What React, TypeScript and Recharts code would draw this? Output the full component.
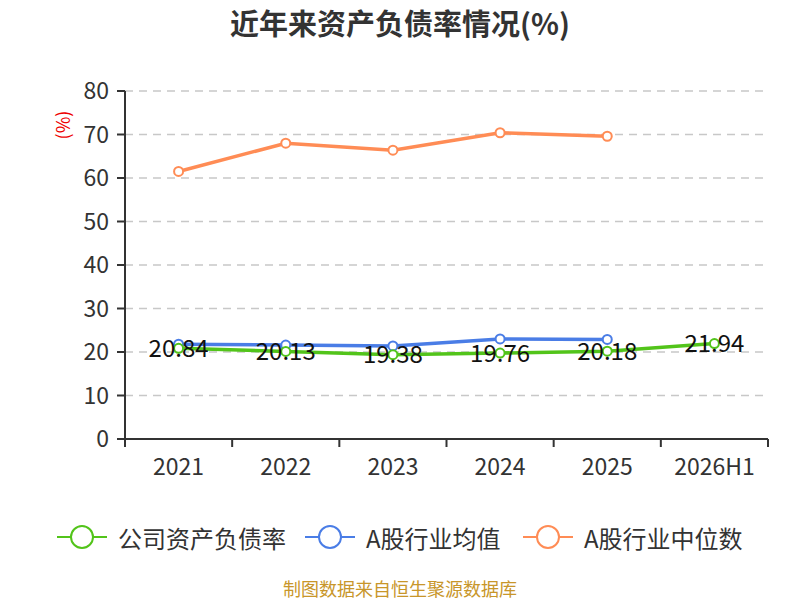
import type { ReactElement } from 'react'
import { CartesianGrid, LabelList, Line, LineChart, XAxis, YAxis } from 'recharts'

const years = ['2021', '2022', '2023', '2024', '2025', '2026H1']
const companyRatio = [20.84, 20.13, 19.38, 19.76, 20.18, 21.94]
const industryAvg = [21.8, 21.6, 21.4, 23.0, 22.9, null]
const industryMedian = [61.5, 68.0, 66.4, 70.4, 69.6, null]
const yTicks = [0, 10, 20, 30, 40, 50, 60, 70, 80]

const GREEN = '#52c41a'
const BLUE = '#4a7de6'
const ORANGE = '#ff8c55'
const FONT = '"Noto Sans CJK SC", "Noto Sans", sans-serif'
const CHART_W = 800
const MARGIN = { top: 91, right: 32, bottom: 131, left: 0 }
const Y_AXIS_W = 125
const HALF_BAND = (CHART_W - MARGIN.left - MARGIN.right - Y_AXIS_W) / years.length / 2

const data = years.map((year, i) => ({
	year,
	company: companyRatio[i],
	avg: industryAvg[i],
	median: industryMedian[i]
}))

const legendItems = [
	{ name: '公司资产负债率', color: GREEN, left: 57 },
	{ name: 'A股行业均值', color: BLUE, left: 305 },
	{ name: 'A股行业中位数', color: ORANGE, left: 523 }
]

const renderValue = (props: any) => {
	const { x, y, value } = props
	if (value == null) return null
	return (
		<text x={x} y={y - 2} textAnchor='middle' dominantBaseline='central' fontSize={24} fill='#111' fontFamily={FONT}>
			{value.toFixed(2)}
		</text>
	)
}

// category tick: label at band centre, tick marks at the band edges
const renderXTick = (props: any) => {
	const { x, y, payload, index } = props
	const last = index === years.length - 1
	return (
		<g>
			<line x1={x - HALF_BAND} y1={y} x2={x - HALF_BAND} y2={y + 8} stroke='#333' strokeWidth={2} />
			{last && <line x1={x + HALF_BAND} y1={y} x2={x + HALF_BAND} y2={y + 8} stroke='#333' strokeWidth={2} />}
			<text x={x} y={y + 26} textAnchor='middle' dominantBaseline='central' fontSize={23} fill='#333' fontFamily={FONT}>
				{payload.value}
			</text>
		</g>
	)
}

const App = (): ReactElement => {
	return (
		<div style={{ position: 'absolute', left: 0, top: 0, width: 800, height: 600, background: '#fff', fontFamily: FONT }}>
			<div style={{ position: 'absolute', top: 2, left: 0, width: 800, textAlign: 'center', fontSize: 29, fontWeight: 'bold', color: '#333', lineHeight: '40px' }}>
				近年来资产负债率情况(%)
			</div>
			<LineChart width={CHART_W} height={600} data={data} margin={MARGIN}>
				<CartesianGrid horizontal vertical={false} stroke='#c8c8c8' strokeDasharray='8 6' strokeWidth={1.5} />
				<XAxis
					dataKey='year'
					scale='band'
					stroke='#333'
					strokeWidth={2}
					tickLine={false}
					tickSize={0}
					tickMargin={0}
					height={30}
					tick={renderXTick}
					interval={0}
				/>
				<YAxis
					domain={[0, 80]}
					ticks={yTicks}
					width={Y_AXIS_W}
					tickSize={8}
					tickMargin={8}
					stroke='#333'
					strokeWidth={2}
					tick={{ fontSize: 23, fill: '#333', fontFamily: FONT }}
					label={{
						content: () => (
							<text x={62} y={125} transform='rotate(-90 62 125)' textAnchor='middle' dominantBaseline='central' fill='#e00' fontSize={18} fontFamily={FONT}>
								(%)
							</text>
						)
					}}
				/>
				<Line
					dataKey='median'
					stroke={ORANGE}
					strokeWidth={3.5}
					dot={{ r: 4.5, fill: '#fff', stroke: ORANGE, strokeWidth: 2 }}
					isAnimationActive={false}
				/>
				<Line
					dataKey='avg'
					stroke={BLUE}
					strokeWidth={3.5}
					dot={{ r: 4.5, fill: '#fff', stroke: BLUE, strokeWidth: 2 }}
					isAnimationActive={false}
				/>
				<Line
					dataKey='company'
					stroke={GREEN}
					strokeWidth={3.5}
					dot={{ r: 4.5, fill: '#fff', stroke: GREEN, strokeWidth: 2 }}
					isAnimationActive={false}
				>
					<LabelList dataKey='company' content={renderValue} />
				</Line>
			</LineChart>
			{legendItems.map((item) => (
				<div key={item.name} style={{ position: 'absolute', left: item.left, top: 521, height: 32, display: 'flex', alignItems: 'center' }}>
					<svg width={50} height={32}>
						<line x1={0} y1={16} x2={50} y2={16} stroke={item.color} strokeWidth={2} />
						<circle cx={25} cy={16} r={11} fill='#fff' stroke={item.color} strokeWidth={2} />
					</svg>
					<span style={{ marginLeft: 11, fontSize: 24, color: '#333', whiteSpace: 'nowrap' }}>{item.name}</span>
				</div>
			))}
			<div style={{ position: 'absolute', top: 577, left: 0, width: 800, textAlign: 'center', fontSize: 18, color: '#c8962a', lineHeight: '22px' }}>
				制图数据来自恒生聚源数据库
			</div>
		</div>
	)
}

export default App
